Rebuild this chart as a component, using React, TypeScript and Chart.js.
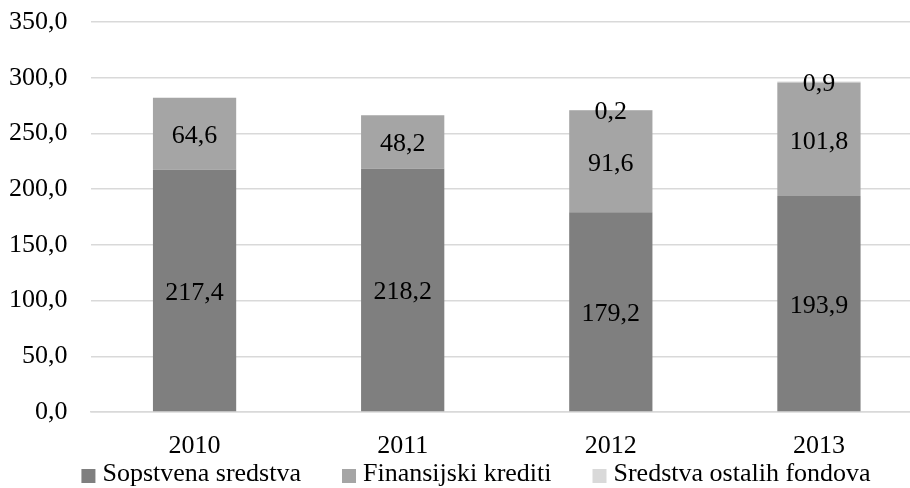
import React, { useEffect, useRef } from "react";
import { Chart, registerables } from "chart.js";

Chart.register(...registerables);

const categories = ["2010", "2011", "2012", "2013"];
const seriesNames = ["Sopstvena sredstva", "Finansijski krediti", "Sredstva ostalih fondova"];
const sopstvena = [217.4, 218.2, 179.2, 193.9];
const finansijski = [64.6, 48.2, 91.6, 101.8];
const ostali = [0, 0, 0.2, 0.9];
const yTicks = [0, 50, 100, 150, 200, 250, 300, 350];
const colors = ["#7f7f7f", "#a5a5a5", "#d9d9d9"];

const FONT = '"Liberation Serif", "Times New Roman", serif';
const FS = 26;

const fmt = (v: number) => v.toFixed(1).replace(".", ",");

const labelPlugin = {
  id: "segLabels",
  afterDatasetsDraw(chart: any) {
    const ctx = chart.ctx;
    ctx.save();
    ctx.font = `${FS}px ${FONT}`;
    ctx.fillStyle = "#000";
    ctx.textAlign = "center";
    ctx.textBaseline = "middle";
    chart.data.datasets.forEach((ds: any, di: number) => {
      const meta = chart.getDatasetMeta(di);
      meta.data.forEach((el: any, i: number) => {
        const v = ds.data[i];
        if (!v) return;
        const y = (el.y + el.base) / 2;
        ctx.fillText(fmt(v), el.x, y + 2.5);
      });
    });
    ctx.restore();
  },
};

const legendPlugin = {
  id: "customLegend",
  afterDraw(chart: any) {
    const ctx = chart.ctx;
    ctx.save();
    ctx.font = `${FS}px ${FONT}`;
    const box = 14;
    const gap = 7;
    const spacing = 41;
    const widths = seriesNames.map((n) => ctx.measureText(n).width);
    const total =
      widths.reduce((a, w) => a + box + gap + w, 0) + spacing * (seriesNames.length - 1);
    let x = 476 - total / 2;
    const yc = 476;
    ctx.textBaseline = "middle";
    ctx.textAlign = "left";
    seriesNames.forEach((n, i) => {
      ctx.fillStyle = colors[i];
      ctx.fillRect(x, yc - box / 2, box, box);
      x += box + gap;
      ctx.fillStyle = "#000";
      ctx.fillText(n, x, yc - 2);
      x += widths[i] + spacing;
    });
    ctx.restore();
  },
};

export default function App() {
  const ref = useRef<HTMLCanvasElement | null>(null);
  useEffect(() => {
    if (!ref.current) return;
    const chart = new Chart(ref.current, {
      type: "bar",
      data: {
        labels: categories,
        datasets: [
          { label: seriesNames[0], data: sopstvena, backgroundColor: colors[0] },
          { label: seriesNames[1], data: finansijski, backgroundColor: colors[1] },
          { label: seriesNames[2], data: ostali, backgroundColor: colors[2] },
        ],
      },
      options: {
        responsive: false,
        animation: false,
        devicePixelRatio: 1,
        layout: { padding: { top: 22, right: 0, left: 0, bottom: 0 } },
        datasets: {
          bar: { categoryPercentage: 1, barPercentage: 0.4 },
        },
        plugins: {
          legend: { display: false },
          tooltip: { enabled: false },
          title: { display: false },
        },
        scales: {
          x: {
            stacked: true,
            grid: { display: false, drawTicks: false },
            border: { display: true, color: "#d9d9d9", width: 1.5 },
            ticks: {
              color: "#000",
              font: { family: FONT, size: FS },
              padding: 19,
              maxRotation: 0,
            },
            afterFit: (s: any) => {
              s.height = 76;
              s.paddingLeft = 0;
              s.paddingRight = 0;
            },
          },
          y: {
            stacked: true,
            min: 0,
            max: 350,
            afterBuildTicks: (s: any) => {
              s.ticks = yTicks.map((v) => ({ value: v }));
            },
            grid: { color: "#d9d9d9", lineWidth: 1.5, drawTicks: false },
            border: { display: false },
            ticks: {
              color: "#000",
              font: { family: FONT, size: FS },
              padding: 23,
              callback: (v: any) => fmt(Number(v)),
            },
            afterFit: (s: any) => {
              s.width = 90.5;
              s.paddingTop = 0;
              s.paddingBottom = 0;
            },
          },
        },
      },
      plugins: [labelPlugin, legendPlugin],
    });
    return () => chart.destroy();
  }, []);
  return (
    <div
      style={{
        position: "fixed",
        left: 0,
        top: 0,
        width: 910,
        height: 488,
        overflow: "hidden",
        background: "#fff",
      }}
    >
      <canvas ref={ref} width={923} height={488} style={{ display: "block" }} />
    </div>
  );
}
